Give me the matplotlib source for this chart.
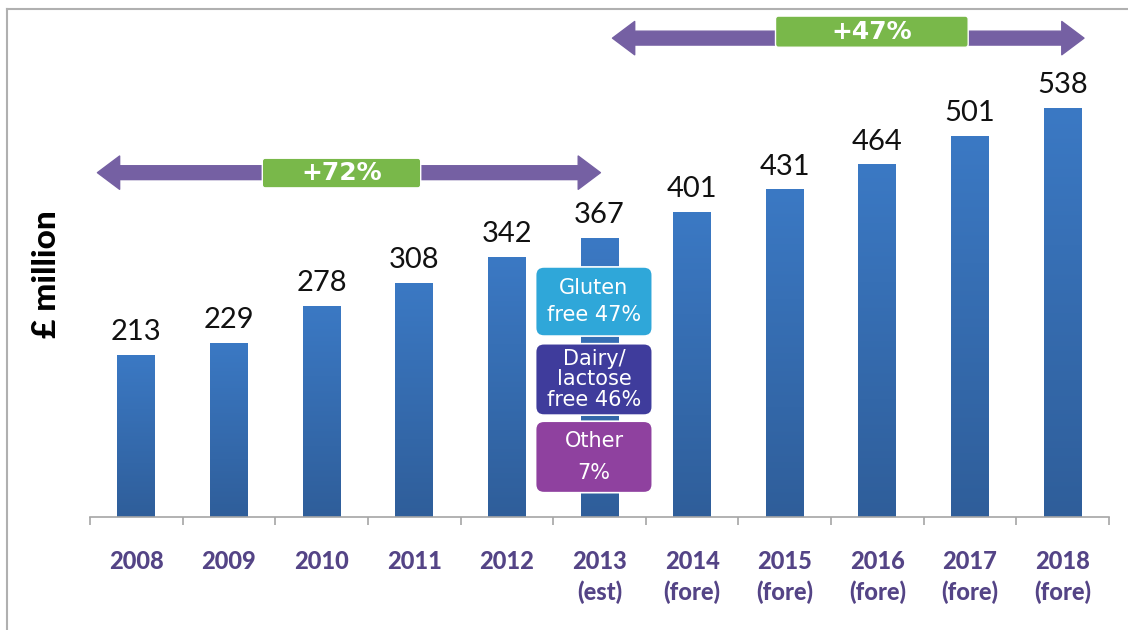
import matplotlib
matplotlib.use("Agg")
import matplotlib.pyplot as plt
import numpy as np
from matplotlib.patches import FancyArrowPatch, FancyBboxPatch
from matplotlib.colors import LinearSegmentedColormap
from matplotlib.lines import Line2D

plt.rcParams["font.family"] = ["Lato", "DejaVu Sans"]

years = ["2008", "2009", "2010", "2011", "2012", "2013\n(est)", "2014\n(fore)",
         "2015\n(fore)", "2016\n(fore)", "2017\n(fore)", "2018\n(fore)"]
sales = [213, 229, 278, 308, 342, 367, 401, 431, 464, 501, 538]

growth_labels = ["+72%", "+47%"]
segment_labels = ["Gluten\nfree 47%", "Dairy/\nlactose\nfree 46%", "Other\n7%"]
segment_colors = ["#2fa7d9", "#3f3c9c", "#8f419f"]

PURPLE_ARROW = "#7560a3"
GREEN = "#79b84a"
TICK_PURPLE = "#544486"

fig = plt.figure(figsize=(11.28, 6.3), dpi=100)
ax = fig.add_axes([90 / 1128, 1 - 517 / 630, (1109 - 90) / 1128, 507 / 630])

x = np.arange(len(sales))
bars = ax.bar(x, sales, width=0.41, color="none", edgecolor="none", zorder=2)

# vertical gradient inside each bar
cmap = LinearSegmentedColormap.from_list("bar", ["#2f5e9a", "#3b79c4"])
grad = np.linspace(0, 1, 256).reshape(-1, 1)
for b in bars:
    x0, w, h = b.get_x(), b.get_width(), b.get_height()
    im = ax.imshow(grad, extent=(x0, x0 + w, 0, h), origin="lower", cmap=cmap,
                   aspect="auto", zorder=2)
    im.set_clip_path(b)

for xi, v in zip(x, sales):
    ax.annotate(str(v), (xi, v), xytext=(0, 7), textcoords="offset points",
                ha="center", va="bottom", fontsize=21, color="#111111")

ax.set_xlim(-0.5, len(sales) - 0.5)
ax.set_ylim(0, 667)

for s in ["top", "right", "left"]:
    ax.spines[s].set_visible(False)
ax.spines["bottom"].set_color("#a6a6a6")
ax.spines["bottom"].set_linewidth(1.2)
ax.set_yticks([])

ax.set_xticks(x)
ax.set_xticklabels(years, fontsize=17, fontweight=900, color=TICK_PURPLE,
                   linespacing=1.35)
ax.tick_params(axis="x", which="major", length=0, pad=24)
ax.set_xticks(np.arange(-0.5, len(sales)), minor=True)
ax.tick_params(axis="x", which="minor", length=6, color="#a6a6a6", width=1.2)

fig.text(47 / 1128, 1 - 274 / 630, "£ million", rotation=90, ha="center",
         va="center", fontsize=24, fontweight=900, color="#000000")


def double_arrow(x_left, x_right, xc, y):
    style = "simple,head_length=1.6,head_width=2.4,tail_width=1.0"
    for end in (x_left, x_right):
        a = FancyArrowPatch((xc, y), (end, y), arrowstyle=style,
                            mutation_scale=10, color=PURPLE_ARROW,
                            shrinkA=0, shrinkB=0, zorder=3, clip_on=False)
        ax.add_patch(a)


def green_box(x0, x1, y0, y1, label):
    p = FancyBboxPatch((x0, y0), x1 - x0, y1 - y0,
                       boxstyle="round,pad=0,rounding_size=0.03",
                       mutation_aspect=130, facecolor=GREEN,
                       edgecolor="white", linewidth=1, zorder=4, clip_on=False)
    ax.add_patch(p)
    ax.text((x0 + x1) / 2, (y0 + y1) / 2, label, ha="center", va="center",
            fontsize=18, fontweight="bold", family="DejaVu Sans",
            color="white", zorder=5)


double_arrow(-0.42, 5.01, 2.2, 453)
green_box(1.36, 3.07, 433, 472, growth_labels[0])
double_arrow(5.14, 10.23, 7.9, 630)
green_box(6.90, 8.98, 618, 659, growth_labels[1])

# breakdown boxes over the 2013 bar
seg_y = [(238, 329), (134, 228), (32, 126)]
seg_spacing = [1.4, 1.05, 1.75]
for (y0, y1), lab, col, ls in zip(seg_y, segment_labels, segment_colors, seg_spacing):
    p = FancyBboxPatch((4.31, y0), 5.57 - 4.31, y1 - y0,
                       boxstyle="round,pad=0,rounding_size=0.09",
                       mutation_aspect=120, facecolor=col,
                       edgecolor="white", linewidth=1.2, zorder=4)
    ax.add_patch(p)
    ax.text((4.31 + 5.57) / 2, (y0 + y1) / 2, lab, ha="center", va="center",
            fontsize=15, color="white", family="DejaVu Sans", linespacing=ls,
            zorder=5)

# thin grey frame on top and left of the slide
fig.add_artist(Line2D([7 / 1128, 7 / 1128], [0, 1 - 9 / 630],
                      transform=fig.transFigure, color="#b0b0b0", lw=1.5))
fig.add_artist(Line2D([7 / 1128, 1], [1 - 9 / 630, 1 - 9 / 630],
                      transform=fig.transFigure, color="#b0b0b0", lw=1.5))

fig.savefig("out.png", dpi=100)
